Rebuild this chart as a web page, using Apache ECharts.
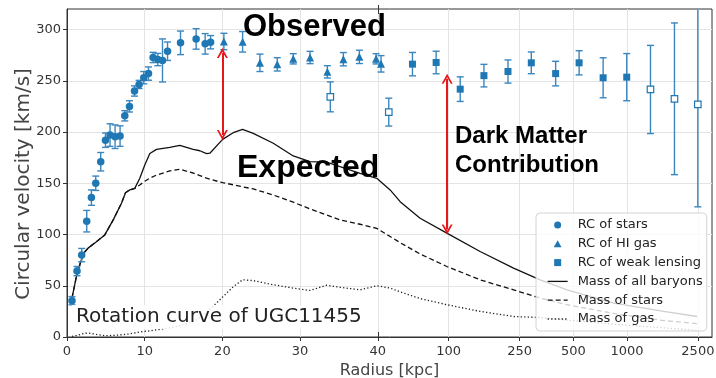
<!DOCTYPE html>
<html><head><meta charset="utf-8">
<script src="https://cdn.jsdelivr.net/npm/echarts@6/dist/echarts.min.js"></script>
<style>html,body{margin:0;padding:0;background:#fff}#c{width:716px;height:378px}</style>
</head><body><div id="c"></div>
<script>
// ---------- data ----------
const xTickValues = [0, 10, 20, 30, 40, 100, 250, 500, 1000, 2500];
const xTickLabels = ['0', '10', '20', '30', '40', '100', '250', '500', '1000', '2500'];
const yTickValues = [0, 50, 100, 150, 200, 250, 300];

// RC of stars
const starsR   = [0.64,1.29,1.89,2.54,3.14,3.70,4.34,4.95,5.54,6.19,6.83,7.44,8.04,8.69,9.28,9.88,10.49,11.08,11.69,12.29,12.94,14.61,16.62,17.78,18.48];
const starsV   = [35.4,64.3,79.9,113,136,150,171,192,197,195.4,196,215.8,225,240,246.4,253,257,272.7,270.7,269.8,278.8,287,290.8,286,287.6];
const starsErr = [4,4.5,6.5,10.5,7.5,7,9,7,11,11.5,10,5,5.5,5,4,6,6.5,5,6,21,9,11.5,10,10,6.5];

// RC of HI gas
const hiR   = [20.19,22.6,24.83,27.06,29.12,31.28,33.51,35.57,37.63,39.78,41.7];
const hiV   = [288.3,288,267.5,266,271.4,272.7,258.7,271,273.3,271.4,266.5];
const hiErr = [8,10,8.5,6.5,5,6,6,6.5,6.5,5,8];

// RC of weak lensing (filled)
const wlR   = [62.6,85,116,157.6,215,290.6,398,539,735,997];
const wlV   = [266.2,267.8,241.8,255,259,267.5,257,267.5,252.9,253.5];
const wlErr = [11.4,11,12,11,11.3,10.6,12,11.8,19.5,23];

// weak lensing (open squares)
const wlOpenR   = [33.89,46.1,1355,1847,2498];
const wlOpenV   = [234.3,219.4,241.5,232.4,227];
const wlOpenErr = [14.6,13.6,43,74,100];

// model curves
const modelR   = [0.64,1.21,1.73,2.15,2.71,3.79,4.86,5.93,7.01,7.53,8.08,8.72,9.37,10.01,10.66,11.52,13.23,14.52,16.24,17.1,17.96,18.39,20.03,21.39,22.6,23.97,26.55,29.12,31.28,33.43,35.14,37.72,39.87,46.9,53.4,69.1,97.6,150,231,326,461,843,1608,2477];
const baryonsV = [38,59,72.7,81.8,86.7,93,99.6,114,130.5,140.8,143.5,145,154.9,167.8,179,183,185,187,183,181.7,179,179.3,192.8,199.3,202.6,198.7,189,176.6,171.1,170.7,166.2,159.7,154.8,143.5,132,115.9,101.3,83.4,67.2,55.8,46,33.1,25,20];
const starsM   = [38,59,72.7,81.8,86.7,93,99.6,114,130.5,140.8,143.5,145,148.3,152,155,158,162,163.6,160,157.5,155,153.9,150.6,148.5,146.5,144.5,138.5,131.5,125,119,114.2,110,106,98,92,81,68.8,55.8,46,38,31.5,23,16,13];
const gasM     = [0.6,1.5,2.5,3.5,3.9,2.5,1.3,1.5,2.2,2.5,3,4,5,5.5,6,7,9,11,15,19,24,27,39,49,55.8,55,51,47.7,45.4,50.5,48.5,46,50,47.7,44,37.5,31.5,25,20,19,16.5,12.5,9,6.4];

// ---------- axis transform (linear to 40 kpc, log beyond) ----------
const LOGK = 22.94;
const u = r => r <= 40 ? r : 40 + LOGK * Math.log10(r / 40);
const X_MAX = u(3000);

const pts = (R, V) => R.map((r, i) => [u(r), V[i]]);
const errs = (R, V, E) => R.map((r, i) => [u(r), V[i] - E[i], V[i] + E[i]]);

const BLUE = '#1f77b4';
const BAR = '#3b86bf';

function errRender(params, api) {
  const x = api.value(0), lo = api.value(1), hi = api.value(2);
  const a = api.coord([x, hi]), b = api.coord([x, lo]);
  const cw = 3.5;
  const st = { stroke: BAR, lineWidth: 1.4 };
  return { type: 'group', children: [
    { type: 'line', shape: { x1: a[0], y1: a[1], x2: b[0], y2: b[1] }, style: st },
    { type: 'line', shape: { x1: a[0] - cw, y1: a[1], x2: a[0] + cw, y2: a[1] }, style: st },
    { type: 'line', shape: { x1: b[0] - cw, y1: b[1], x2: b[0] + cw, y2: b[1] }, style: st }
  ]};
}

const xTickU = xTickValues.map(u);
const RED = '#e8161b';
const arrowPath = 'path://M0,10 L5,0 L10,10 L8.3,10 L5,3.6 L1.7,10 Z';
const triPath = 'path://M5,0 L10,9 L0,9 Z';
const rectPath = 'path://M0,0 L10,0 L10,10 L0,10 Z';
const hideSym = { color: 'transparent', borderColor: 'transparent', borderWidth: 0 };

const chart = echarts.init(document.getElementById('c'), null, { renderer: 'canvas' });
const option = {
  animation: false,
  textStyle: { fontFamily: 'DejaVu Sans' },
  grid: { left: 67, right: 4, top: 9, bottom: 41, show: true, borderColor: '#333', borderWidth: 1,
    containLabel: false, outerBoundsMode: 'none' },
  xAxis: [{
    type: 'value', min: 0, max: X_MAX,
    name: 'Radius [kpc]', nameLocation: 'middle', nameGap: 23,
    nameTextStyle: { fontSize: 16, color: '#444', fontFamily: 'DejaVu Sans' },
    axisLine: { show: true, lineStyle: { color: '#333' } },
    axisTick: { show: true, length: 4, customValues: xTickU, lineStyle: { color: '#333' } },
    axisLabel: { customValues: xTickU, fontSize: 13, color: '#333', margin: 8,
      formatter: (v) => { const i = xTickU.findIndex(t => Math.abs(t - v) < 1e-6); return i >= 0 ? xTickLabels[i] : ''; } },
    splitLine: { show: true, lineStyle: { color: '#e4e4e4' } }
  }, {
    type: 'value', min: 0, max: X_MAX, position: 'top',
    axisLine: { show: false }, axisLabel: { show: false }, splitLine: { show: false },
    axisTick: { show: true, length: 4, inside: false, customValues: [u(40)], lineStyle: { color: '#333' } }
  }, {
    type: 'value', min: 0, max: X_MAX, position: 'top',
    axisLine: { show: false }, axisLabel: { show: false }, splitLine: { show: false },
    axisTick: { show: true, length: 5, inside: true, customValues: [u(40)], lineStyle: { color: '#333' } }
  }, {
    type: 'value', min: 0, max: X_MAX, position: 'bottom',
    axisLine: { show: false }, axisLabel: { show: false }, splitLine: { show: false },
    axisTick: { show: true, length: 5, inside: true, customValues: [u(40)], lineStyle: { color: '#333' } }
  }],
  yAxis: {
    type: 'value', min: 0, max: 320, interval: 50,
    axisLine: { show: true, lineStyle: { color: '#333' } },
    axisTick: { show: true, length: 4, customValues: yTickValues, lineStyle: { color: '#333' } },
    axisLabel: { customValues: yTickValues, fontSize: 13, color: '#333', margin: 6 },
    splitLine: { show: true, lineStyle: { color: '#e4e4e4' } }
  },
  legend: {
    orient: 'vertical', left: 536, top: 213,
    backgroundColor: 'rgba(255,255,255,0.8)', borderColor: '#d4d4d4', borderWidth: 1, borderRadius: 4,
    padding: [5, 4, 5, 11], itemWidth: 20, itemHeight: 7, itemGap: 4.8, symbolKeepAspect: true,
    textStyle: { fontSize: 13, color: '#222', lineHeight: 14, fontFamily: 'DejaVu Sans', padding: [0, 0, 0, 5] },
    data: [
      { name: 'RC of stars', icon: 'circle' },
      { name: 'RC of HI gas', icon: triPath },
      { name: 'RC of weak lensing', icon: rectPath },
      { name: 'Mass of all baryons', itemStyle: hideSym, lineStyle: { width: 1.3 } },
      { name: 'Mass of stars', itemStyle: hideSym, lineStyle: { width: 1.3 } },
      { name: 'Mass of gas', itemStyle: hideSym, lineStyle: { width: 1.3 } }
    ]
  },
  graphic: [
    { type: 'text', x: 24, y: 184, rotation: Math.PI / 2, z: 100,
      style: { text: 'Circular velocity [km/s]', font: '20px "DejaVu Sans"', fill: '#444', align: 'center', verticalAlign: 'middle' } },
    { type: 'text', left: 243, top: 12, z: 100, style: { text: 'Observed', font: 'bold 31px "Liberation Sans"', fill: '#000' } },
    { type: 'text', left: 237, top: 152, z: 100, style: { text: 'Expected', font: 'bold 32px "Liberation Sans"', fill: '#000' } },
    { type: 'text', left: 455, top: 122, z: 100, style: { text: 'Dark Matter\nContribution', font: 'bold 24px "Liberation Sans"', lineHeight: 29, fill: '#000' } },
    { type: 'text', left: 72, top: 305, z: 100, style: { text: 'Rotation curve of UGC11455', font: '20px "DejaVu Sans"', fill: '#222',
      backgroundColor: 'rgba(255,255,255,0.85)', padding: [2, 4, 2, 4] } }
  ],
  series: [
    { type: 'line', name: 'Mass of all baryons', data: pts(modelR, baryonsV), symbol: 'none', z: 3,
      lineStyle: { color: '#111', width: 1.3, type: 'solid' }, itemStyle: { color: '#111' } },
    { type: 'line', name: 'Mass of stars', data: pts(modelR, starsM), symbol: 'none', z: 3,
      lineStyle: { color: '#111', width: 1.3, type: [5, 3] }, itemStyle: { color: '#111' } },
    { type: 'line', name: 'Mass of gas', data: pts(modelR, gasM), symbol: 'none', z: 3,
      lineStyle: { color: '#222', width: 1.3, type: [1.3, 2.2] }, itemStyle: { color: '#222' } },
    { type: 'custom', name: 'errStars', renderItem: errRender, data: errs(starsR, starsV, starsErr), encode: { x: 0, y: [1, 2] }, clip: true, silent: true, z: 4 },
    { type: 'custom', name: 'errHI', renderItem: errRender, data: errs(hiR, hiV, hiErr), encode: { x: 0, y: [1, 2] }, clip: true, silent: true, z: 4 },
    { type: 'custom', name: 'errWL', renderItem: errRender, data: errs(wlR, wlV, wlErr), encode: { x: 0, y: [1, 2] }, clip: true, silent: true, z: 4 },
    { type: 'custom', name: 'errWLopen', renderItem: errRender, data: errs(wlOpenR, wlOpenV, wlOpenErr), encode: { x: 0, y: [1, 2] }, clip: true, silent: true, z: 4 },
    { type: 'scatter', name: 'RC of stars', data: pts(starsR, starsV), symbol: 'circle', symbolSize: 7.5, itemStyle: { color: BLUE, opacity: 1 }, z: 5 },
    { type: 'scatter', name: 'RC of HI gas', data: pts(hiR, hiV), symbol: 'triangle', symbolSize: 8, itemStyle: { color: BLUE, opacity: 1 }, z: 5 },
    { type: 'scatter', name: 'RC of weak lensing', data: pts(wlR, wlV), symbol: 'rect', symbolSize: 7, itemStyle: { color: BLUE, opacity: 1 }, z: 5 },
    { type: 'scatter', name: 'WL open', data: pts(wlOpenR, wlOpenV), symbol: 'rect', symbolSize: 6.5, itemStyle: { color: '#fff', borderColor: BLUE, borderWidth: 1.2, opacity: 1 }, z: 5 },
    { type: 'line', name: 'arrows', data: [], z: 6, silent: true,
      markLine: {
        silent: true, symbol: [arrowPath, arrowPath], symbolSize: [11, 10],
        label: { show: false },
        lineStyle: { color: RED, width: 2, type: 'solid' },
        data: [
          [{ coord: [u(20), 277] }, { coord: [u(20), 197] }],
          [{ coord: [u(98), 252] }, { coord: [u(98), 105] }]
        ]
      } }
  ]
};
chart.setOption(option);
</script></body></html>
